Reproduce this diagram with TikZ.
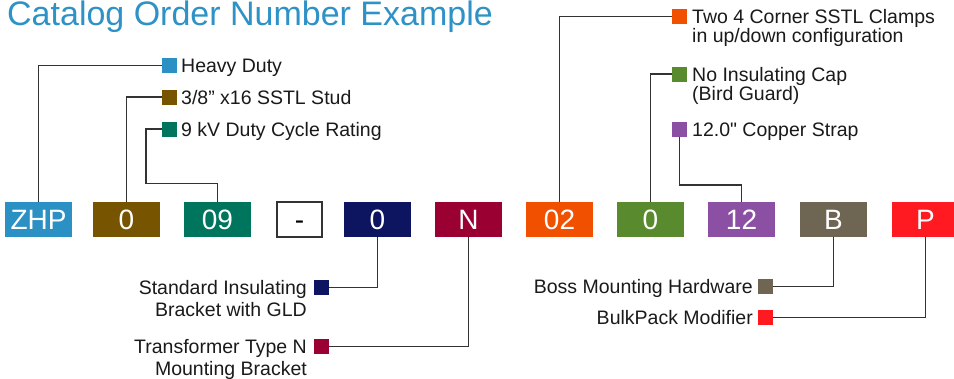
\documentclass[tikz,border=0pt]{standalone}
\usepackage{fontspec}
\setmainfont{Liberation Sans}[Ligatures=TeXOff]
\definecolor{cTitle}{HTML}{2E92C6}
\definecolor{cBlue}{HTML}{2B90C4}
\definecolor{cBrown}{HTML}{775500}
\definecolor{cTeal}{HTML}{00755E}
\definecolor{cNavy}{HTML}{0D1560}
\definecolor{cCrimson}{HTML}{9B0033}
\definecolor{cOrange}{HTML}{F05000}
\definecolor{cGreen}{HTML}{5A8A2E}
\definecolor{cPurple}{HTML}{8B50A4}
\definecolor{cTaupe}{HTML}{6E6552}
\definecolor{cRed}{HTML}{FF1A22}
\definecolor{cWire}{HTML}{333333}
\definecolor{cText}{HTML}{1A1A1A}
\begin{document}
\begin{tikzpicture}[x=1pt,y=-1pt,
  code/.style={minimum width=67pt, minimum height=35pt, inner sep=0pt, text height=20pt, text depth=0pt, text=white, font=\fontsize{28}{28}\selectfont},
  sq/.style={minimum size=15pt, inner sep=0pt},
  lbl/.style={inner sep=0pt, text=cText, font=\fontsize{19.5}{19}\selectfont},
  lblb/.style={lbl, font=\fontsize{19.5}{21.5}\selectfont},
  wire/.style={draw=cWire, line width=1.4pt}]
\useasboundingbox (0,0) rectangle (954,378);
\fill[white] (0,0) rectangle (954,378);
% title
\node[anchor=base west, inner sep=0pt, text=cTitle, font=\fontsize{34}{34}\selectfont] (title) at (7,25) {Catalog Order Number Example};
% code boxes
\node[code, fill=cBlue] (zhp) at (38.5,219.5) {ZHP};
\node[code, fill=cBrown] (bzero) at (126.5,219.5) {0};
\node[code, fill=cTeal] (bnine) at (217.5,219.5) {09};
\node[code, fill=white, draw=cWire, line width=1.4pt, text=black, minimum width=45pt, minimum height=35pt] (dash) at (299.5,219.5) {-};
\node[code, fill=cNavy] (nzero) at (377.5,219.5) {0};
\node[code, fill=cCrimson] (nN) at (468.5,219.5) {N};
\node[code, fill=cOrange] (otwo) at (559.5,219.5) {02};
\node[code, fill=cGreen] (gzero) at (650.5,219.5) {0};
\node[code, fill=cPurple] (ptwelve) at (741.5,219.5) {12};
\node[code, fill=cTaupe] (bB) at (833.5,219.5) {B};
\node[code, fill=cRed] (pP) at (925.5,219.5) {P};
% legend squares
\node[sq, fill=cBlue] (sqHD) at (169.5,65.5) {};
\node[sq, fill=cBrown] (sqSS) at (169.5,97) {};
\node[sq, fill=cTeal] (sqKV) at (169.5,129) {};
\node[sq, fill=cOrange] (sqTC) at (679.5,16.5) {};
\node[sq, fill=cGreen] (sqNI) at (679.5,74) {};
\node[sq, fill=cPurple] (sqCS) at (679.5,129.5) {};
\node[sq, fill=cNavy] (sqSI) at (321.5,287.5) {};
\node[sq, fill=cCrimson] (sqTN) at (321.5,346.5) {};
\node[sq, fill=cTaupe] (sqBM) at (765.5,286.5) {};
\node[sq, fill=cRed] (sqBP) at (765.5,317.5) {};
% labels
\node[lbl, anchor=base west] (lHD) at (181,72.5) {Heavy Duty};
\node[lbl, anchor=base west] (lSS) at (181,104) {3/8” x16 SSTL Stud};
\node[lbl, anchor=base west] (lKV) at (181,136) {9 kV Duty Cycle Rating};
\node[lbl, anchor=base west, align=left] (lTC) at (692,42.5) {Two 4 Corner SSTL Clamps\\in up/down configuration};
\node[lbl, anchor=base west, align=left] (lNI) at (692,100) {No Insulating Cap\\(Bird Guard)};
\node[lbl, anchor=base west] (lCS) at (692,136.5) {12.0" Copper Strap};
\node[lblb, anchor=base east, align=right] (lSI) at (307,316) {Standard Insulating\\Bracket with GLD};
\node[lblb, anchor=base east, align=right] (lTN) at (307,375) {Transformer Type N\\Mounting Bracket};
\node[lbl, anchor=base east] (lBM) at (753,293.5) {Boss Mounting Hardware};
\node[lbl, anchor=base east] (lBP) at (753,324.5) {BulkPack Modifier};
% connectors
\coordinate (kKV) at (146,183.5);
\coordinate (kCS) at (679.5,185);
\draw[wire] (sqHD.west) -| (zhp.north);
\draw[wire] (sqSS.west) -| (bzero.north);
\draw[wire] (sqKV.west) -| (kKV) -| (bnine.north);
\draw[wire] (sqTC.west) -| (otwo.north);
\draw[wire] (sqNI.west) -| (gzero.north);
\draw[wire] (sqCS.south) -- (kCS) -| (ptwelve.north);
\draw[wire] (sqSI.east) -| (nzero.south);
\draw[wire] (sqTN.east) -| (nN.south);
\draw[wire] (sqBM.east) -| (bB.south);
\draw[wire] (sqBP.east) -| (pP.south);
\end{tikzpicture}
\end{document}
